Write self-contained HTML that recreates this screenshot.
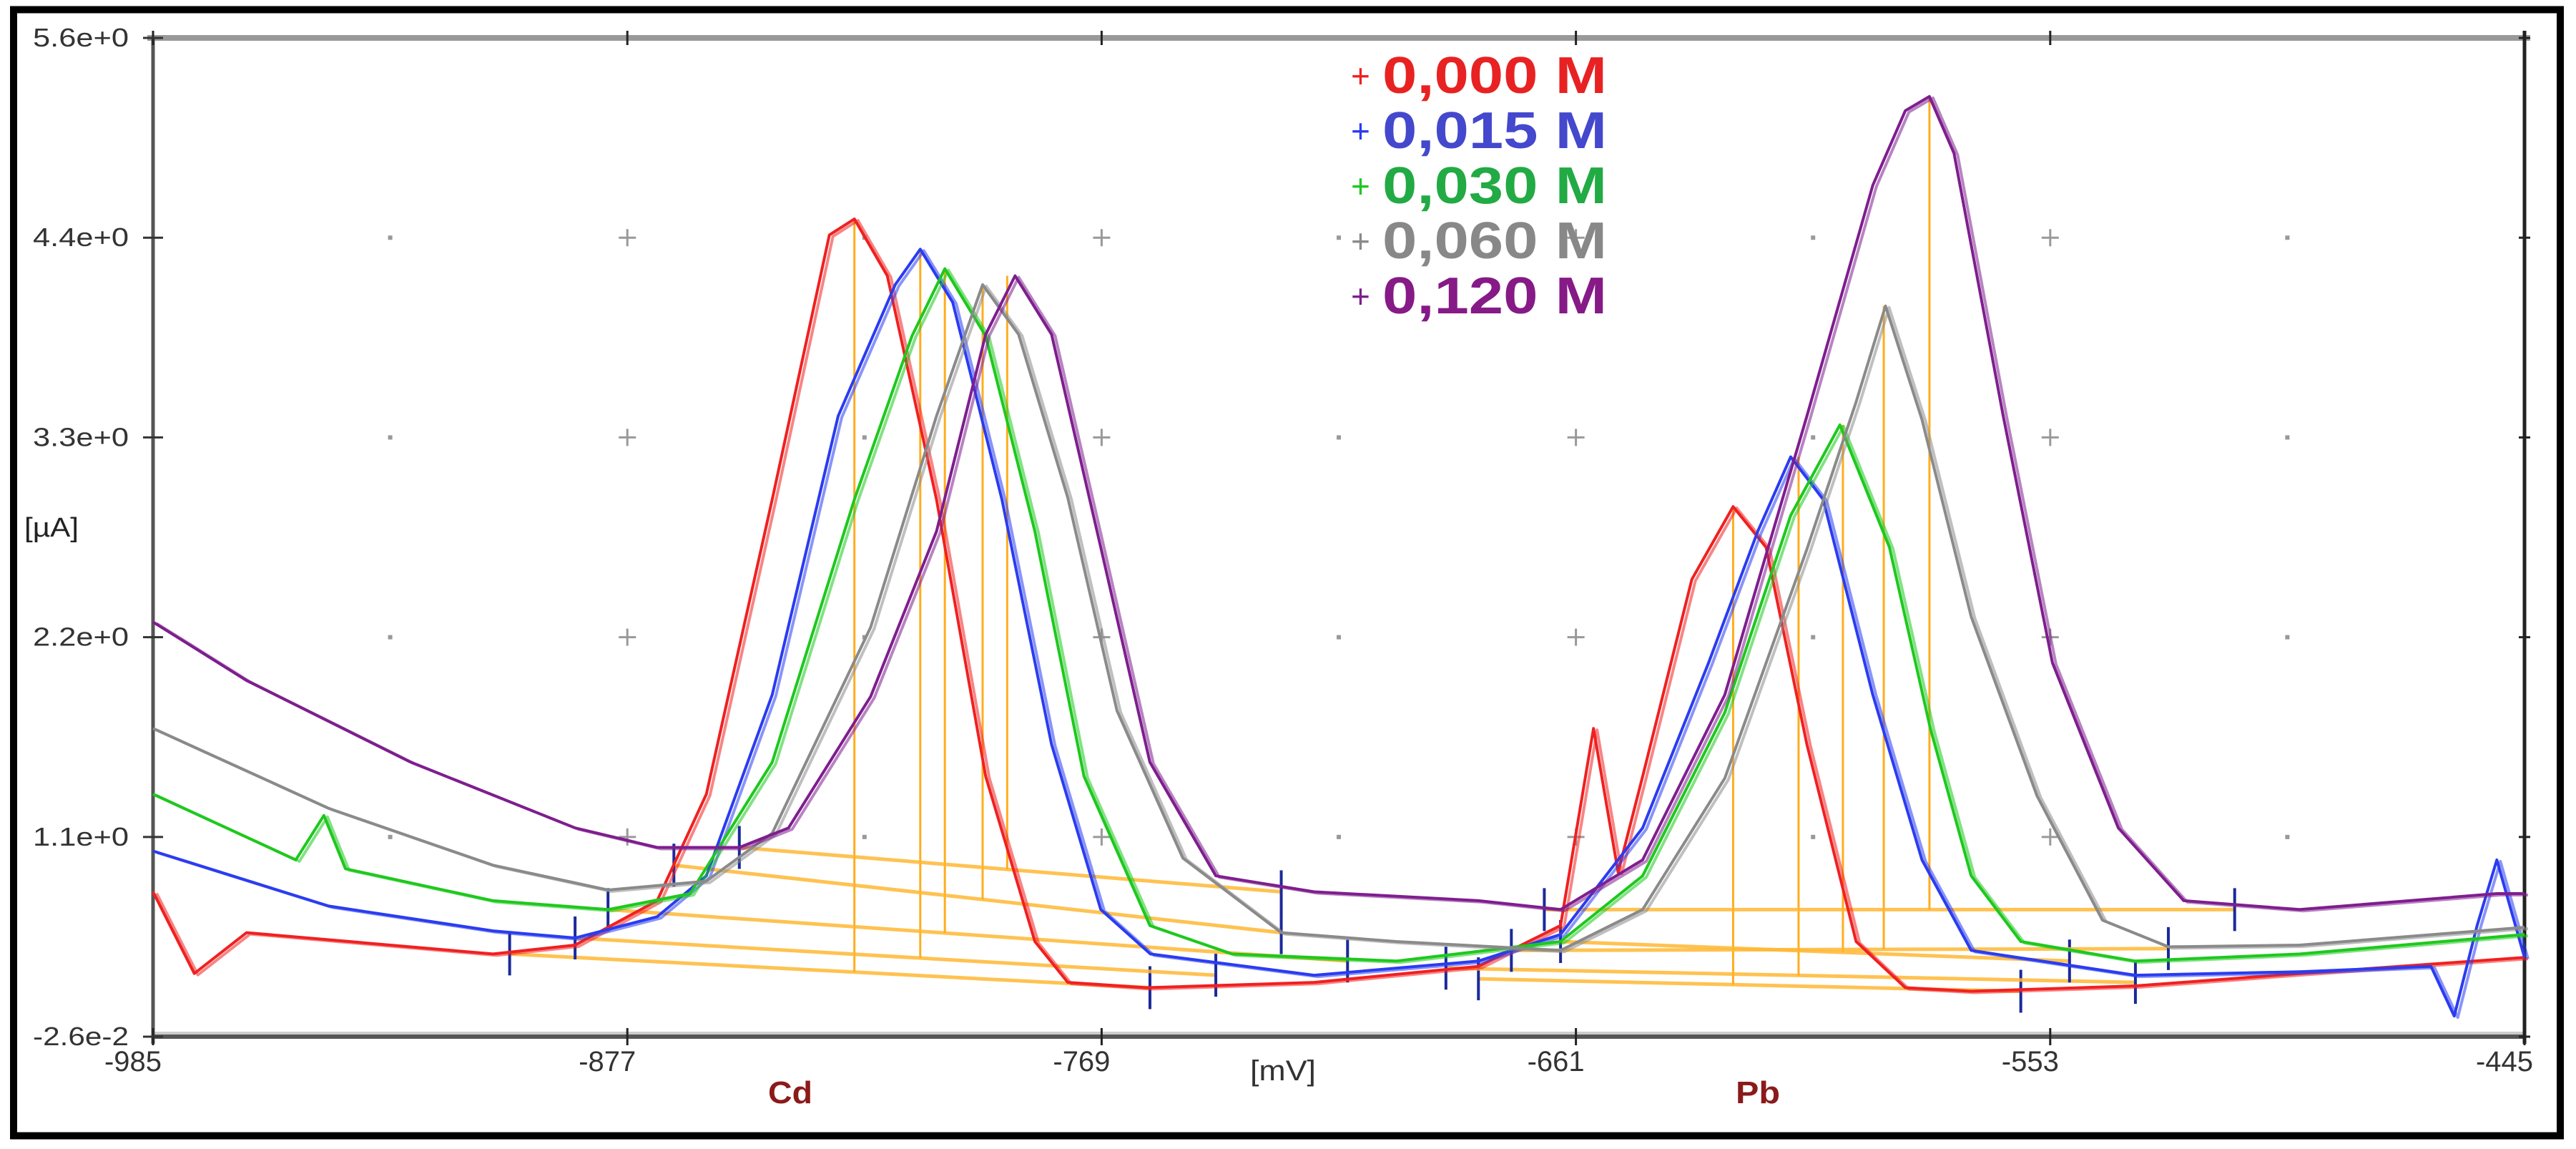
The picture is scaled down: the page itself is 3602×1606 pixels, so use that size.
<!DOCTYPE html>
<html><head><meta charset="utf-8"><style>
html,body{margin:0;padding:0;background:#fff;}
svg{display:block;}
text{font-family:"Liberation Sans",Arial,sans-serif;}
</style></head><body>
<svg id="chart" width="3602" height="1606" viewBox="0 0 3602 1606" xmlns="http://www.w3.org/2000/svg">
<rect x="0" y="0" width="3602" height="1606" fill="#fff"/>
<rect x="19" y="13.5" width="3561" height="1574" fill="none" stroke="#000" stroke-width="10"/>
<g id="grid"></g>
<g id="axes"></g>
<g id="baselines"></g>
<g id="series"></g>
<g id="legend"></g>
</svg>
<script>
// ---- data ----
const xTicks = [-985, -877, -769, -661, -553, -445];
const yTickLabels = ["5.6e+0", "4.4e+0", "3.3e+0", "2.2e+0", "1.1e+0", "-2.6e-2"];
const yTickValues = [5.6, 4.4747, 3.3495, 2.2242, 1.0989, -0.026];
const seriesNames = ["0,000 M", "0,015 M", "0,030 M", "0,060 M", "0,120 M"];
const seriesColors = ["#f02020", "#2a3cf0", "#1ec81e", "#8a8a8a", "#7e1e8e"];
const legendColors = ["#e82222", "#4448cc", "#22aa44", "#888888", "#861a86"];

const redX = [-985,-975.6,-963.7,-907.6,-888.9,-870.2,-859,-844,-831,-825.3,-817.8,-806.6,-795.4,-784.2,-776.7,-758.8,-720.6,-683.2,-664.5,-657,-651.4,-645.8,-634.6,-625.2,-617.7,-608.4,-597.2,-586,-571,-533.6,-496.2,-445];
const redY = [0.79,0.33,0.56,0.44,0.49,0.74,1.34,3.0,4.49,4.58,4.26,3.0,1.44,0.51,0.28,0.25,0.28,0.37,0.6,1.71,0.9,1.44,2.55,2.96,2.73,1.62,0.51,0.25,0.23,0.26,0.33,0.42];
const blueX = [-985,-945,-907.6,-888.9,-870.2,-859,-844,-829,-816,-810.3,-802.9,-791.7,-780.4,-769.2,-757.9,-720.6,-683.2,-664.5,-645.8,-630.8,-619.6,-612.1,-604.7,-593.4,-582.2,-571,-533.6,-496.2,-466.3,-461,-455.8,-451.3,-445];
const blueY = [1.02,0.71,0.57,0.53,0.65,0.88,1.9,3.47,4.21,4.41,4.11,3.0,1.62,0.69,0.44,0.32,0.4,0.55,1.15,2.08,2.82,3.24,3.0,1.9,0.97,0.46,0.32,0.34,0.37,0.09,0.6,0.97,0.42];
const greenX = [-985,-952.5,-946.1,-941.2,-907.6,-881.4,-862.7,-844,-825.3,-812.2,-804.7,-795.4,-784.2,-773,-758,-739.3,-701.9,-664.5,-645.8,-627.1,-612.1,-600.9,-589.6,-580.3,-571,-559.7,-533.6,-496.2,-445];
const greenY = [1.34,0.97,1.22,0.92,0.74,0.69,0.78,1.52,3.0,3.92,4.30,3.92,2.82,1.44,0.6,0.44,0.4,0.51,0.88,1.8,2.91,3.42,2.73,1.71,0.88,0.51,0.4,0.44,0.55];
const grayX = [-985,-945,-907.6,-881.4,-859,-844,-821.6,-806.6,-796.1,-787.9,-776.7,-765.5,-750.5,-728.1,-701.9,-664.5,-645.8,-627.1,-608.4,-597.2,-590.5,-582.2,-571,-556,-541.1,-526.1,-496.2,-445];
const grayY = [1.71,1.26,0.94,0.8,0.85,1.12,2.28,3.47,4.21,3.93,3.01,1.81,0.98,0.56,0.51,0.46,0.69,1.43,2.72,3.55,4.09,3.45,2.34,1.33,0.63,0.48,0.49,0.59];
const purpleX = [-985,-963.7,-926.3,-888.9,-870.2,-851.5,-840.3,-821.6,-806.6,-795.4,-788.7,-780.4,-769.2,-758,-743,-720.6,-683.2,-664.5,-645.8,-627.1,-608.4,-593.4,-586,-580.5,-574.9,-563.7,-552.5,-537.5,-522.6,-496.2,-451.3,-445];
const purpleY = [2.31,1.98,1.52,1.15,1.04,1.04,1.15,1.89,2.82,3.93,4.26,3.93,2.73,1.52,0.88,0.79,0.74,0.69,0.97,1.9,3.47,4.77,5.19,5.27,4.95,3.47,2.08,1.15,0.74,0.69,0.78,0.78];

const cdPeakX = [-825.3,-810.3,-804.7,-796.1,-790.5];
const cdPeakY = [4.58,4.41,4.30,4.21,4.26];
const cdBaseX1 = [-903.8,-888.9,-881.4,-866.4,-851.5];
const cdBaseY1 = [0.44,0.53,0.69,0.94,1.04];
const cdBaseX2 = [-758,-743,-713,-728.1,-728.1];
const cdBaseY2 = [0.25,0.32,0.40,0.56,0.79];
const pbPeakX = [-625.2,-610.3,-600.2,-590.9,-580.5];
const pbPeakY = [2.96,3.24,3.42,4.09,5.27];
const pbBaseX1 = [-683.2,-690.6,-664.5,-675.7,-668.2];
const pbBaseY1 = [0.3,0.36,0.51,0.46,0.69];
const pbBaseX2 = [-559.7,-533.6,-548.6,-526.1,-511];
const pbBaseY2 = [0.23,0.28,0.40,0.47,0.69];

const allX = [redX, blueX, greenX, grayX, purpleX];
const allY = [redY, blueY, greenY, grayY, purpleY];

// ---- scales ----
const L = 214, R = 3530, T = 53, B = 1449;
const X = v => L + (v - (-985)) / 540 * (R - L);
const Y = v => B - (v - (-0.026)) / 5.626 * (B - T);
const NS = "http://www.w3.org/2000/svg";
function mk(tag, attrs, parent) {
  const e = document.createElementNS(NS, tag);
  for (const k in attrs) e.setAttribute(k, attrs[k]);
  parent.appendChild(e);
  return e;
}
const grid = document.getElementById('grid');
const axes = document.getElementById('axes');
const base = document.getElementById('baselines');
const ser = document.getElementById('series');
const leg = document.getElementById('legend');

for (let r = 1; r <= 4; r++) {
  const yy = Y(yTickValues[r]);
  for (let i = 0; i < 10; i++) {
    const xv = -985 + 54 * (i + 1);
    if (xv >= -445) break;
    const xx = X(xv);
    if ((i + 1) % 2 === 0) {
      const p = mk('path', {d: `M${xx-12},${yy}H${xx+12}M${xx},${yy-12}V${yy+12}`, stroke: '#999', 'stroke-width': 3}, grid);
      
      
    } else {
      const d = mk('rect', {x: xx-3, y: yy-3, width: 6, height: 6, fill: '#999'}, grid);
      
      
    }
  }
}

let a;
a = mk('line', {x1: L-8, y1: T, x2: R+8, y2: T, stroke: '#999', 'stroke-width': 8}, axes);
 
a = mk('line', {x1: L, y1: B-5, x2: R, y2: B-5, stroke: '#ccc', 'stroke-width': 4}, axes);
 
a = mk('line', {x1: L, y1: B, x2: R, y2: B, stroke: '#555', 'stroke-width': 6}, axes);
 
a = mk('line', {x1: L, y1: T, x2: L, y2: B+10, stroke: '#555', 'stroke-width': 5}, axes);
 
a = mk('line', {x1: R, y1: T-10, x2: R, y2: B+10, stroke: '#222', 'stroke-width': 5}, axes);
 

xTicks.forEach((t, i) => {
  const xx = X(t);
  const tk = mk('line', {x1: xx, y1: B-12, x2: xx, y2: B+12, stroke: '#222', 'stroke-width': 3}, axes);
   
  const tt = mk('line', {x1: xx, y1: T-10, x2: xx, y2: T+10, stroke: '#222', 'stroke-width': 3}, axes);
   
  const tx = mk('text', {x: xx - 28, y: B + 48, 'text-anchor': 'middle', 'font-size': 40, fill: '#333', textLength: 80, lengthAdjust: 'spacingAndGlyphs'}, axes);
  tx.textContent = String(t);
   
});
yTickValues.forEach((v, i) => {
  const yy = Y(v);
  const tk = mk('line', {x1: L-14, y1: yy, x2: L+14, y2: yy, stroke: '#333', 'stroke-width': 3}, axes);
   
  const tr = mk('line', {x1: R-8, y1: yy, x2: R+8, y2: yy, stroke: '#222', 'stroke-width': 3}, axes);
   
  const tx = mk('text', {x: 46, y: yy + 12, 'font-size': 36, fill: '#333', textLength: 134, lengthAdjust: 'spacingAndGlyphs'}, axes);
  tx.textContent = yTickLabels[i];
   
});
let lab;
lab = mk('text', {x: 34, y: 750, 'font-size': 38, fill: '#222', textLength: 76, lengthAdjust: 'spacingAndGlyphs'}, axes);
lab.textContent = '[µA]';  
lab = mk('text', {x: 1794, y: 1510, 'text-anchor': 'middle', 'font-size': 40, fill: '#333', textLength: 92, lengthAdjust: 'spacingAndGlyphs'}, axes);
lab.textContent = '[mV]';  
lab = mk('text', {x: 1105, y: 1542, 'text-anchor': 'middle', 'font-size': 44, 'font-weight': 'bold', fill: '#8b1a1a', textLength: 62, lengthAdjust: 'spacingAndGlyphs'}, axes);
lab.textContent = 'Cd';  
lab = mk('text', {x: 2458, y: 1542, 'text-anchor': 'middle', 'font-size': 44, 'font-weight': 'bold', fill: '#8b1a1a', textLength: 62, lengthAdjust: 'spacingAndGlyphs'}, axes);
lab.textContent = 'Pb';  

function drawPeak(px, py, bx1, by1, bx2, by2, kind) {
  for (let i = 0; i < px.length; i++) {
    const l = mk('line', {x1: X(bx1[i]), y1: Y(by1[i]), x2: X(bx2[i]), y2: Y(by2[i]), stroke: '#ffb833', 'stroke-width': 5, opacity: 0.85}, base);
    
    
    const t = (px[i] - bx1[i]) / (bx2[i] - bx1[i]);
    const byAt = by1[i] + t * (by2[i] - by1[i]);
    const v = mk('line', {x1: X(px[i]), y1: Y(py[i]), x2: X(px[i]), y2: Y(byAt), stroke: '#ffad20', 'stroke-width': 3}, base);
    
    
    [bx1[i], bx2[i]].forEach((bx, j) => {
      const by = j ? by2[i] : by1[i];
      const m = mk('line', {x1: X(bx), y1: Y(by) - 30, x2: X(bx), y2: Y(by) + 30, stroke: '#1a2a9a', 'stroke-width': 4}, base);
      
      
    });
  }
}
drawPeak(cdPeakX, cdPeakY, cdBaseX1, cdBaseY1, cdBaseX2, cdBaseY2, 'cd');
drawPeak(pbPeakX, pbPeakY, pbBaseX1, pbBaseY1, pbBaseX2, pbBaseY2, 'pb');

allX.forEach((xs, s) => {
  const d = xs.map((x, i) => (i ? 'L' : 'M') + X(x).toFixed(1) + ',' + Y(allY[s][i]).toFixed(1)).join('');
  const g = mk('g', {}, ser);
  
  
  const p1 = mk('path', {d: d, fill: 'none', stroke: seriesColors[s], 'stroke-width': 4, 'stroke-linejoin': 'round', opacity: 0.55, transform: 'translate(5,2)'}, g);
  
  
  const p2 = mk('path', {d: d, fill: 'none', stroke: seriesColors[s], 'stroke-width': 4, 'stroke-linejoin': 'round'}, g);
  
  
});

seriesNames.forEach((n, i) => {
  const by = 130 + i * 77;
  const plus = mk('text', {x: 1889, y: by - 8, 'font-size': 46, fill: seriesColors[i]}, leg);
  plus.textContent = '+';
  
  
  const t = mk('text', {x: 1933, y: by, 'font-size': 72, 'font-weight': 'bold', fill: legendColors[i], textLength: 314, lengthAdjust: 'spacingAndGlyphs'}, leg);
  t.textContent = n;
  
  
});
</script>
</body></html>
